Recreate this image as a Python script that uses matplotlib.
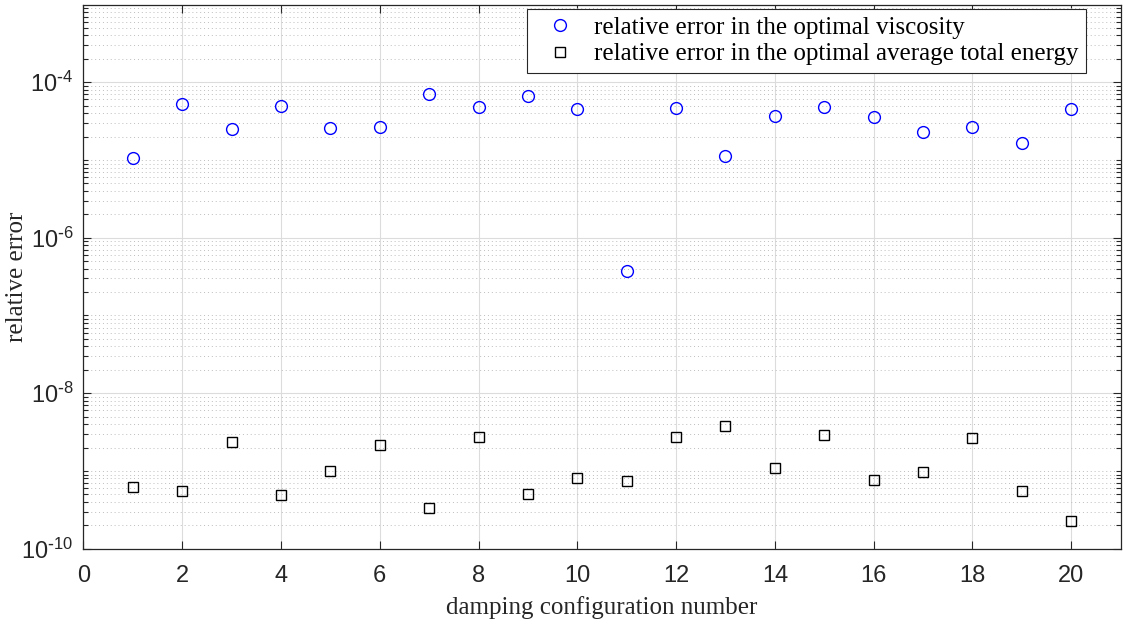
import matplotlib
matplotlib.use("Agg")
import math
import matplotlib.pyplot as plt
from matplotlib.ticker import FixedLocator, FuncFormatter

plt.rcParams["axes.unicode_minus"] = False

# data
config = list(range(1, 21))
err_viscosity = [1.07e-5, 5.31e-5, 2.51e-5, 4.92e-5, 2.56e-5, 2.64e-5, 7.14e-5, 4.86e-5, 6.61e-5, 4.54e-5,
                 3.72e-7, 4.63e-5, 1.12e-5, 3.72e-5, 4.77e-5, 3.55e-5, 2.28e-5, 2.69e-5, 1.67e-5, 4.58e-5]
err_energy = [6.25e-10, 5.6e-10, 2.36e-9, 4.97e-10, 1.01e-9, 2.16e-9, 3.38e-10, 2.71e-9, 5.08e-10, 8.17e-10,
              7.48e-10, 2.71e-9, 3.75e-9, 1.09e-9, 2.93e-9, 7.7e-10, 9.77e-10, 2.66e-9, 5.6e-10, 2.3e-10]
x_ticks = [0, 2, 4, 6, 8, 10, 12, 14, 16, 18, 20]
y_ticks = [1e-10, 1e-8, 1e-6, 1e-4]

serif = "Liberation Serif"
sans = "Liberation Sans"
axcol = "#262626"

fig = plt.figure(figsize=(11.23, 6.24), dpi=100)
ax = fig.add_axes([83.3 / 1123, 1 - 548.7 / 624, (1120.7 - 83.3) / 1123, (548.7 - 4.5) / 624])

ax.plot(config, err_viscosity, linestyle="none", marker="o", markersize=8.5, markerfacecolor="none",
        markeredgecolor="blue", markeredgewidth=1.0, label="relative error in the optimal viscosity")
ax.plot(config, err_energy, linestyle="none", marker="s", markersize=7, markerfacecolor="none",
        markeredgecolor="black", markeredgewidth=1.0, label="relative error in the optimal average total energy")

ax.set_yscale("log")
ax.set_xlim(0, 21)
ax.set_ylim(1e-10, 1e-3)

ax.set_xticks(x_ticks)
ax.yaxis.set_major_locator(FixedLocator(y_ticks))
minors = [k * 10.0 ** e for e in range(-10, -3) for k in range(1, 10)]
minors = [m for m in minors if m <= 1e-3 and all(abs(m - t) / t > 1e-6 for t in y_ticks)]
ax.yaxis.set_minor_locator(FixedLocator(minors))
ax.yaxis.set_minor_formatter(FuncFormatter(lambda v, p: ""))
# hyphen (not a minus sign) in the exponent, as in the reference
ax.yaxis.set_major_formatter(FuncFormatter(
    lambda v, p: r"$\mathregular{10^{\text{-}%d}}$" % abs(round(math.log10(v)))))

for lab in ax.get_xticklabels() + ax.get_yticklabels():
    lab.set_fontfamily(sans)
    lab.set_fontsize(17)
    lab.set_color(axcol)

ax.tick_params(axis="both", which="both", direction="in", top=True, right=True, colors=axcol)
ax.tick_params(axis="both", which="major", length=6, width=0.8)
ax.tick_params(axis="x", which="major", pad=12)
ax.tick_params(axis="y", which="major", pad=7)
ax.tick_params(axis="y", which="minor", length=3.5, width=0.8)
ax.tick_params(axis="x", which="minor", bottom=False, top=False)

for sp in ax.spines.values():
    sp.set_color(axcol)
    sp.set_linewidth(0.9)

ax.grid(True, which="major", color="#dcdcdc", linestyle="-", linewidth=0.8)
ax.grid(True, which="minor", axis="y", color="#bdbdbd", linestyle=(0, (1, 3)), linewidth=0.7)
ax.set_axisbelow(True)

ax.set_xlabel("damping configuration number", fontfamily=serif, fontsize=18, color=axcol, labelpad=6)
ax.set_ylabel("relative error", fontfamily=serif, fontsize=18, color=axcol)
ax.yaxis.set_label_coords((28 - 83.3) / (1120.7 - 83.3), 0.5)

leg = ax.legend(loc="upper right", bbox_to_anchor=((1086 - 83.3) / (1120.7 - 83.3), 1 - 4.5 / 544.2),
                prop={"family": serif, "size": 18}, fancybox=False, framealpha=1.0,
                borderpad=0.3, handlelength=2.1, handletextpad=0.3, labelspacing=0.15, borderaxespad=0)
leg.get_frame().set_edgecolor(axcol)
leg.get_frame().set_linewidth(0.8)

fig.savefig("out.png", dpi=100)
